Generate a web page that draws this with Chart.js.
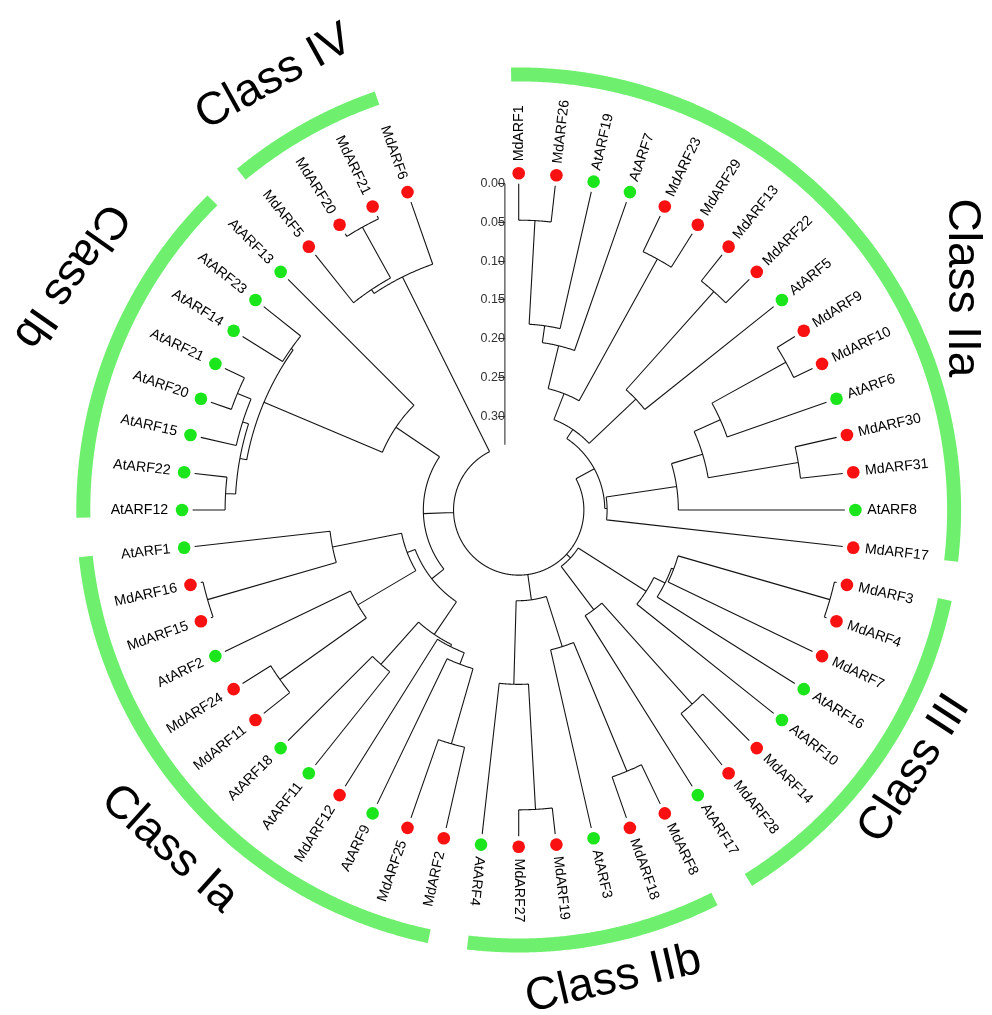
<!DOCTYPE html>
<html>
<head>
<meta charset="utf-8">
<script src="https://cdn.jsdelivr.net/npm/chart.js@4.4.1/dist/chart.umd.min.js"></script>
<style>
  html, body { margin: 0; padding: 0; background: #ffffff; }
  #wrap { width: 992px; height: 1015px; }
</style>
</head>
<body>
<div id="wrap"><canvas id="tree" width="992" height="1015"></canvas></div>
<script>
// ---- Tips, clockwise from 12 o'clock ----
const leaves = ['MdARF1','MdARF26','AtARF19','AtARF7','MdARF23','MdARF29','MdARF13','MdARF22','AtARF5',
  'MdARF9','MdARF10','AtARF6','MdARF30','MdARF31','AtARF8','MdARF17','MdARF3','MdARF4','MdARF7','AtARF16',
  'AtARF10','MdARF14','MdARF28','AtARF17','MdARF8','MdARF18','AtARF3','MdARF19','MdARF27','AtARF4','MdARF2',
  'MdARF25','AtARF9','MdARF12','AtARF11','AtARF18','MdARF11','MdARF24','AtARF2','MdARF15','MdARF16','AtARF1',
  'AtARF12','AtARF22','AtARF15','AtARF20','AtARF21','AtARF14','AtARF23','AtARF13','MdARF5','MdARF20','MdARF21','MdARF6'];

// ---- Internal nodes (children listed before parents) ----
const nodeIds = ['A','B','C','D','M','E','F','N','G','H','I','J','K','L','O',
  'P','Q','R','S','T','U','V','W','X','AA','Z','Y',
  'AB','AC','AD','AF','AE','AI','AJ','AG','AH','AK','AM',
  'AR','AS','AU','AT','AP','AO','AN','AL','AV','AX','AY','root'];
const nodeChildren = [
  ['MdARF1','MdARF26'], ['A','AtARF19'], ['B','AtARF7'], ['MdARF23','MdARF29'], ['C','D'],
  ['MdARF13','MdARF22'], ['E','AtARF5'], ['M','F'], ['MdARF9','MdARF10'], ['G','AtARF6'],
  ['MdARF30','MdARF31'], ['H','I'], ['J','AtARF8'], ['K','MdARF17'], ['N','L'],
  ['MdARF3','MdARF4'], ['P','MdARF7'], ['Q','AtARF16'], ['R','AtARF10'], ['MdARF14','MdARF28'],
  ['T','AtARF17'], ['S','U'], ['MdARF8','MdARF18'], ['W','AtARF3'], ['MdARF19','MdARF27'],
  ['AA','AtARF4'], ['X','Z'],
  ['MdARF2','MdARF25'], ['AB','AtARF9'], ['AC','MdARF12'], ['AtARF11','AtARF18'], ['AD','AF'],
  ['MdARF11','MdARF24'], ['AI','AtARF2'], ['MdARF15','MdARF16'], ['AG','AtARF1'], ['AJ','AH'], ['AE','AK'],
  ['AtARF20','AtARF21'], ['AtARF15','AR'], ['AtARF12','AtARF22'], ['AU','AS'], ['AtARF14','AtARF23'],
  ['AT','AP'], ['AO','AtARF13'], ['AM','AN'], ['MdARF20','MdARF21'], ['MdARF5','AV'], ['AX','MdARF6'],
  ['O','V','Y','AL','AY']
];
// node depth below the tips, in branch-length units
const nodeHeights = [
  0.047, 0.181, 0.203, 0.051, 0.260, 0.043, 0.213, 0.296, 0.027, 0.136,
  0.055, 0.173, 0.215, 0.307, 0.310,
  0.003, 0.207, 0.210, 0.226, 0.085, 0.260, 0.330, 0.056, 0.236, 0.034,
  0.196, 0.304,
  0.107, 0.208, 0.224, 0.154, 0.227, 0.043, 0.180, 0.003, 0.176, 0.267, 0.278,
  0.028, 0.047, 0.042, 0.055, 0.061, 0.064, 0.230, 0.298, 0.004, 0.079, 0.085,
  0.337
];

// ---- Clades marked by the outer ring ----
const classNames = ['Class IIa','Class III','Class IIb','Class Ia','Class Ib','Class IV'];
const classFirst = ['MdARF1','MdARF3','MdARF8','MdARF2','AtARF12','MdARF5'];
const classLast  = ['MdARF17','AtARF17','AtARF4','AtARF1','AtARF13','MdARF6'];

// ---- Scale bar ticks ----
const scaleTicks = [0.00, 0.05, 0.10, 0.15, 0.20, 0.25, 0.30];

// ================= layout & style =================
const PX = 784.3;                 // pixels per unit of branch length
const u = p => p / PX;
const W = 992, H = 1015, CX = 519, CY = 510;
const ROOT_R = u(66);
const LEAF_STEP = 360 / 56;       // even spacing, with an open sector at the top
const DOT_R = u(341), LABEL_OUT = u(353), LABEL_IN = u(355);
const RING_R = u(441), RING_PAD0 = 1.0, RING_PAD1 = 0.3;
const SB_X = u(505 - CX);
const RED = '#f91010', GREEN = '#1be61b', RING = 'rgb(110,240,110)';
const FONT = '"Liberation Sans", Arial, sans-serif';

// caption placement: angle (deg, clockwise from up), distance (px), rotation (deg)
const captionLayout = [
  { angle: 63.4,  dist: 502, rot: 90 },
  { angle: 123.2, dist: 479, rot: -57 },
  { angle: 168.6, dist: 485, rot: -13 },
  { angle: 225.9, dist: 493, rot: 42 },
  { angle: 297.6, dist: 512, rot: 125 },
  { angle: 330.5, dist: 503, rot: -29 }
];

// ================= tree geometry =================
const angleOf = {}, heightOf = {}, parentOf = {};
leaves.forEach((n, i) => { angleOf[n] = i * LEAF_STEP; heightOf[n] = 0; });
nodeIds.forEach((id, k) => {
  heightOf[id] = nodeHeights[k];
  const a = nodeChildren[k].map(c => { parentOf[c] = id; return angleOf[c]; });
  angleOf[id] = (Math.min(...a) + Math.max(...a)) / 2;
});
const H_ROOT = heightOf['root'];
const rhoOf = h => ROOT_R + (H_ROOT - h);

const polar = (rho, deg) => { const t = deg * Math.PI / 180; return { x: rho * Math.sin(t), y: rho * Math.cos(t) }; };
const arcPts = (rho, a0, a1, step = 0.25) => {
  const n = Math.max(2, Math.ceil((a1 - a0) / step) + 1), out = [];
  for (let i = 0; i < n; i++) out.push(polar(rho, a0 + (a1 - a0) * i / (n - 1)));
  return out;
};
const gap = () => ({ x: 0, y: null });

const branchPts = [];
[...leaves, ...nodeIds].forEach(id => {
  if (!(id in parentOf)) return;
  branchPts.push(polar(rhoOf(heightOf[parentOf[id]]), angleOf[id]), polar(rhoOf(heightOf[id]), angleOf[id]), gap());
});
nodeIds.forEach((id, k) => {
  const a = nodeChildren[k].map(c => angleOf[c]);
  branchPts.push(...arcPts(rhoOf(heightOf[id]), Math.min(...a), Math.max(...a)), gap());
});

const ringPts = [];
classNames.forEach((c, k) => {
  ringPts.push(...arcPts(RING_R, angleOf[classFirst[k]] - RING_PAD0, angleOf[classLast[k]] + RING_PAD1), gap());
});

const mdDots = leaves.filter(n => n.startsWith('Md')).map(n => polar(DOT_R, angleOf[n]));
const atDots = leaves.filter(n => n.startsWith('At')).map(n => polar(DOT_R, angleOf[n]));
const tipRho = rhoOf(0);
const scaleBar = [{ x: SB_X, y: tipRho }, { x: SB_X, y: ROOT_R }];

// ================= captions & tip names =================
const textPlugin = {
  id: 'treeText',
  afterDraw(chart) {
    const { ctx, scales: { x, y } } = chart;
    const toPx = (rho, deg) => { const p = polar(rho, deg); return [x.getPixelForValue(p.x), y.getPixelForValue(p.y)]; };
    ctx.save();
    ctx.fillStyle = '#000';
    ctx.textBaseline = 'middle';
    ctx.font = '14.2px ' + FONT;
    leaves.forEach(name => {
      const a = angleOf[name];
      const outward = a < 189;
      const [px, py] = toPx(outward ? LABEL_OUT : LABEL_IN, a);
      ctx.save();
      ctx.translate(px, py);
      ctx.rotate((outward ? a - 90 : a - 270) * Math.PI / 180);
      ctx.textAlign = outward ? 'left' : 'right';
      ctx.fillText(name, 0, 0);
      ctx.restore();
    });
    ctx.font = '46px ' + FONT;
    ctx.textAlign = 'center';
    classNames.forEach((c, k) => {
      const L = captionLayout[k];
      const [px, py] = toPx(u(L.dist), L.angle);
      ctx.save();
      ctx.translate(px, py);
      ctx.rotate(L.rot * Math.PI / 180);
      ctx.fillText(c, 0, 0);
      ctx.restore();
    });
    ctx.restore();
  }
};

// a long solid dash keeps every vertex of the curved paths (no pixel-column merging)
const lineSet = (data, color, width, order) => ({
  data, showLine: true, borderColor: color, borderWidth: width, pointRadius: 0, pointHitRadius: 0,
  spanGaps: false, tension: 0, borderCapStyle: 'butt', borderJoinStyle: 'round',
  borderDash: [5000, 0], order, xAxisID: 'x', yAxisID: 'y'
});

new Chart(document.getElementById('tree'), {
  type: 'scatter',
  data: {
    datasets: [
      { data: mdDots, pointRadius: 6.3, pointBackgroundColor: RED, pointBorderWidth: 0, showLine: false, order: 0, xAxisID: 'x', yAxisID: 'y' },
      { data: atDots, pointRadius: 6.3, pointBackgroundColor: GREEN, pointBorderWidth: 0, showLine: false, order: 0, xAxisID: 'x', yAxisID: 'y' },
      lineSet(branchPts, '#141414', 1.1, 1),
      lineSet(scaleBar, '#333333', 1.1, 1),
      lineSet(ringPts, RING, 14, 2)
    ]
  },
  options: {
    responsive: false,
    animation: false,
    events: [],
    layout: { padding: 0 },
    plugins: { legend: { display: false }, tooltip: { enabled: false } },
    scales: {
      x: { type: 'linear', display: false, min: u(-CX), max: u(W - CX) },
      y: { type: 'linear', display: false, min: u(-(H - CY)), max: u(CY) },
      ySB: {
        type: 'linear', axis: 'y', position: { x: SB_X }, reverse: true,
        min: tipRho - u(CY), max: tipRho + u(H - CY),
        border: { display: false },
        grid: { drawOnChartArea: false, drawTicks: true, tickLength: 7, color: '#333333', lineWidth: 1 },
        ticks: { autoSkip: false, padding: 1, color: '#333333', font: { family: FONT, size: 12.5 },
                 callback: v => Number(v).toFixed(2) },
        afterBuildTicks: s => { s.ticks = scaleTicks.map(value => ({ value })); },
        afterFit: s => { s.paddingTop = 0; s.paddingBottom = 0; s.paddingLeft = 0; s.paddingRight = 0; }
      }
    }
  },
  plugins: [textPlugin]
});
</script>
</body>
</html>
